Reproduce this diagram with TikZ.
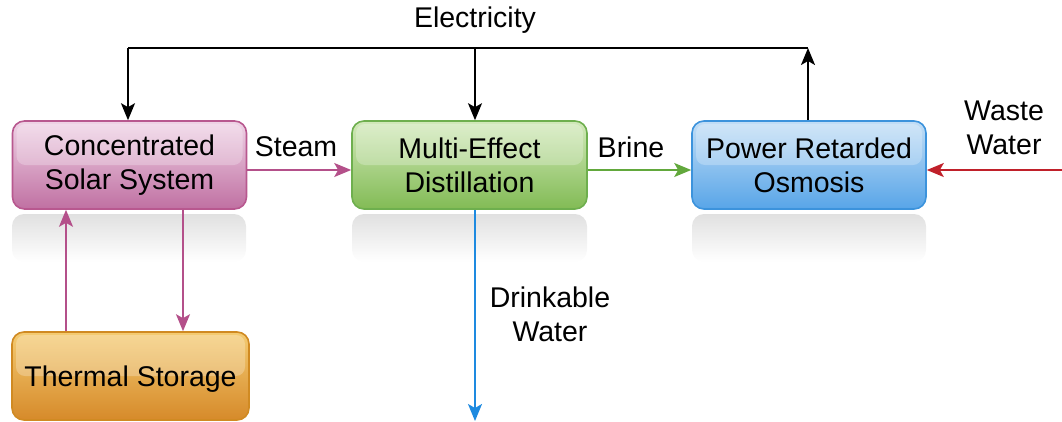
\documentclass[tikz,border=0pt]{standalone}
\usepackage{fontspec}
\setmainfont{Liberation Sans}
\usetikzlibrary{arrows.meta}
\definecolor{pinkB}{HTML}{B8588F}
\definecolor{pinkT}{HTML}{EFD3E6}
\definecolor{pinkD}{HTML}{C070A2}
\definecolor{greenB}{HTML}{6EAF4E}
\definecolor{greenT}{HTML}{D2E9BA}
\definecolor{greenD}{HTML}{82BB55}
\definecolor{blueB}{HTML}{3C93DC}
\definecolor{blueT}{HTML}{C2DEF6}
\definecolor{blueD}{HTML}{58A5E8}
\definecolor{orangeB}{HTML}{D08A22}
\definecolor{orangeT}{HTML}{F4CB72}
\definecolor{orangeD}{HTML}{D68A2A}
\definecolor{arrPink}{HTML}{B4508A}
\definecolor{arrGreen}{HTML}{62A83C}
\definecolor{arrBlue}{HTML}{1E8AE0}
\definecolor{arrRed}{HTML}{C0202A}
\tikzset{
  procbox/.style={rounded corners=12pt, line width=1.6pt, minimum width=234pt, minimum height=88pt,
    align=center, font=\fontsize{28.5}{34}\selectfont, inner sep=0pt,
    path picture={\fill[white, opacity=0.25, rounded corners=9pt]
      ([xshift=4pt,yshift=-3pt]path picture bounding box.north west) rectangle
      ([xshift=-4pt,yshift=0pt]path picture bounding box.east);}},
  lbl/.style={font=\fontsize{28.5}{34}\selectfont, align=center, inner sep=0pt},
  flow/.style={line width=1.8pt, -{Stealth[length=17pt,width=14pt,inset=4pt]}},
  plain/.style={line width=1.8pt},
}
\begin{document}
\begin{tikzpicture}[x=1pt,y=-1pt]
\useasboundingbox (0,0) rectangle (1062,421);
% reflections
\foreach \xa/\xb in {12/246, 352/587, 692/926}{
  \shade[top color=black!12, bottom color=white, rounded corners=12pt]
    (\xa,214) -- (\xa,262) -- (\xb,262) -- (\xb,214) -- cycle;
}
% boxes
\node[procbox, draw=pinkB, top color=pinkT, bottom color=pinkD] (css) at (129.5,165) {Concentrated\\Solar System};
\node[procbox, draw=greenB, top color=greenT, bottom color=greenD, minimum width=235pt] (med) at (469.5,165) {Multi-Effect\\Distillation};
\node[procbox, draw=blueB, top color=blueT, bottom color=blueD] (pro) at (809,165) {Power Retarded\\Osmosis};
\node[procbox, draw=orangeB, top color=orangeT, bottom color=orangeD, minimum width=237pt, text depth=3pt] (ts) at (130.5,376) {\raisebox{-4pt}{Thermal Storage}};
% electricity
\coordinate (e1) at (128,48);
\coordinate (e2) at (808,48);
\coordinate (em) at (475,48);
\draw[flow] (pro.north -| e2) -- (e2);
\draw[plain] (e1) -- (e2);
\draw[flow] (e1) -- (css.north -| e1);
\draw[flow] (em) -- (med.north -| em);
\node[lbl] (elec) at (475,20) {Electricity};
% steam
\draw[flow, arrPink] ([yshift=-5pt]css.east) -- ([yshift=-5pt]med.west);
\node[lbl] (steam) at (296,147) {Steam};
% brine
\draw[flow, arrGreen] ([yshift=-5pt]med.east) -- ([yshift=-5pt]pro.west);
\node[lbl] (brine) at (631,147) {Brine};
% waste water
\coordinate (ww) at (1062,170);
\draw[flow, arrRed] (ww) -- (pro.east |- ww);
\node[lbl] (waste) at (1004,128) {Waste\\Water};
% drinkable water
\coordinate (dw) at (475,421);
\draw[flow, arrBlue] (med.south -| dw) -- (dw);
\node[lbl] (drink) at (550,314) {Drinkable\\Water};
% css <-> ts
\coordinate (up) at (66,0);
\coordinate (dn) at (183,0);
\draw[flow, arrPink] (ts.north -| up) -- (css.south -| up);
\draw[flow, arrPink] (css.south -| dn) -- (ts.north -| dn);
\end{tikzpicture}
\end{document}
